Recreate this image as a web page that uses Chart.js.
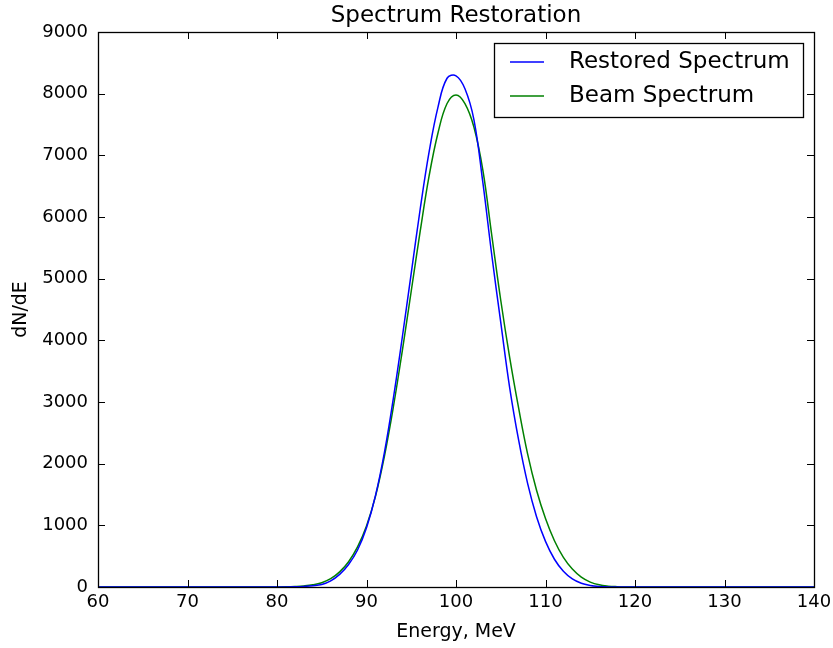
<!DOCTYPE html>
<html>
<head>
<meta charset="utf-8">
<script src="https://cdn.jsdelivr.net/npm/chart.js@4.4.0/dist/chart.umd.min.js"></script>
<style>
  html, body { margin: 0; padding: 0; background: #fff; }
  #wrap { width: 833px; height: 648px; }
</style>
</head>
<body>
<div id="wrap"><canvas id="spec"></canvas></div>
<script>
// energy grid, MeV
const energy = [60, 61, 62, 63, 64, 65, 66, 67, 68, 69,
                70, 71, 72, 73, 74, 75, 76, 77, 78, 79,
                80, 81, 82, 83, 84, 85, 86, 87, 88, 89,
                90, 91, 92, 93, 94, 95, 96, 97, 98, 99,
                100, 101, 102, 103, 104, 105, 106, 107, 108, 109,
                110, 111, 112, 113, 114, 115, 116, 117, 118, 119,
                120, 121, 122, 123, 124, 125, 126, 127, 128, 129,
                130, 131, 132, 133, 134, 135, 136, 137, 138, 139, 140];

// dN/dE
const restored = [0, 0, 0, 0, 0, 0, 0, 0, 0, 0,
                  0, 0, 0, 0, 0, 0, 0, 0, 0, 0,
                  0, 1, 4, 10, 20, 40, 100, 205, 365, 600,
                  960, 1480, 2180, 3060, 4050, 5090, 6130, 7060, 7790, 8250,
                  8290, 8080, 7580, 6560, 5380, 4290, 3230, 2380, 1680, 1140,
                  740, 450, 255, 130, 60, 25, 8, 2, 0, 0,
                  0, 0, 0, 0, 0, 0, 0, 0, 0, 0,
                  0, 0, 0, 0, 0, 0, 0, 0, 0, 0, 0];

const beam = [0, 0, 0, 0, 0, 0, 0, 0, 0, 0,
              0, 0, 0, 0, 0, 0, 0, 0, 0, 0,
              1, 3, 8, 17, 35, 70, 135, 245, 410, 650,
              990, 1470, 2120, 2920, 3830, 4800, 5770, 6670, 7370, 7840,
              7980, 7840, 7460, 6760, 5700, 4650, 3720, 2900, 2160, 1570,
              1110, 750, 480, 290, 160, 80, 35, 14, 5, 1,
              0, 0, 0, 0, 0, 0, 0, 0, 0, 0,
              0, 0, 0, 0, 0, 0, 0, 0, 0, 0, 0];

const chartTitle = 'Spectrum Restoration';
const seriesNames = ['Restored Spectrum', 'Beam Spectrum'];
const seriesColors = ['#0000ff', '#008000'];

const FONT = "'DejaVu Sans', sans-serif";

function pts(ys) {
    return energy.map((e, i) => ({ x: e, y: ys[i] }));
}

// box round the plot, inward ticks on all four sides, title over the plot, legend box
const framePlugin = {
    id: 'frame',
    afterDraw(chart) {
        const { ctx, chartArea: a, scales } = chart;
        const tl = 7;
        ctx.save();
        ctx.strokeStyle = '#000';
        ctx.lineWidth = 1;
        ctx.beginPath();
        for (const t of scales.x.ticks) {
            const px = Math.round(scales.x.getPixelForValue(t.value)) + 0.5;
            ctx.moveTo(px, a.bottom); ctx.lineTo(px, a.bottom - tl);
            ctx.moveTo(px, a.top); ctx.lineTo(px, a.top + tl);
        }
        for (const t of scales.y.ticks) {
            const py = Math.round(scales.y.getPixelForValue(t.value)) + 0.5;
            ctx.moveTo(a.left, py); ctx.lineTo(a.left + tl, py);
            ctx.moveTo(a.right, py); ctx.lineTo(a.right - tl, py);
        }
        ctx.stroke();
        ctx.lineWidth = 1.3;
        ctx.strokeRect(Math.round(a.left) + 0.5, Math.round(a.top) + 0.5,
                       Math.round(a.right - a.left), Math.round(a.bottom - a.top));

        // title centred on the plot area
        ctx.fillStyle = '#000';
        ctx.font = "23px " + FONT;
        ctx.textAlign = 'center';
        ctx.textBaseline = 'middle';
        ctx.fillText(chartTitle, (a.left + a.right) / 2, a.top - 16);

        // legend box, upper right
        const bx = Math.round(a.right) - 320, by = Math.round(a.top) + 11, bw = 309, bh = 74;
        ctx.fillStyle = '#fff';
        ctx.fillRect(bx, by, bw, bh);
        ctx.lineWidth = 1.3;
        ctx.strokeRect(bx + 0.5, by + 0.5, bw, bh);
        ctx.textAlign = 'left';
        seriesNames.forEach((name, i) => {
            const y = by + 19 + i * 34;
            ctx.strokeStyle = seriesColors[i];
            ctx.lineWidth = 1.5;
            ctx.beginPath();
            ctx.moveTo(bx + 16, y); ctx.lineTo(bx + 50, y);
            ctx.stroke();
            ctx.fillStyle = '#000';
            ctx.fillText(name, bx + 75, y);
        });
        ctx.restore();
    }
};

const ctx = document.getElementById('spec').getContext('2d');
const chart = new Chart(ctx, {
    type: 'line',
    data: {
        datasets: [
            { label: seriesNames[0], data: pts(restored), borderColor: seriesColors[0],
              borderWidth: 1.5, pointRadius: 0, tension: 0.4 },
            { label: seriesNames[1], data: pts(beam), borderColor: seriesColors[1],
              borderWidth: 1.5, pointRadius: 0, tension: 0.4 }
        ]
    },
    options: {
        responsive: true,
        maintainAspectRatio: false,
        animation: false,
        layout: { padding: { left: 0, right: 19, top: 32, bottom: 0 } },
        plugins: {
            legend: { display: false },
            tooltip: { enabled: false },
            title: { display: false }
        },
        scales: {
            x: {
                type: 'linear',
                min: 60, max: 140,
                grid: { display: false, drawTicks: false },
                border: { display: false },
                ticks: { stepSize: 10, color: '#000', padding: 5,
                         font: { family: FONT, size: 18 } },
                title: { display: true, text: 'Energy, MeV', color: '#000',
                         font: { family: FONT, size: 19 }, padding: { top: 4, bottom: 5 } },
                afterFit(s) { s.height = 61; s.paddingRight = 0; s.paddingLeft = 0; }
            },
            y: {
                min: 0, max: 9000,
                grid: { display: false, drawTicks: false },
                border: { display: false },
                ticks: { stepSize: 1000, color: '#000', padding: 10,
                         font: { family: FONT, size: 18 },
                         callback: (v) => String(v) },
                title: { display: true, text: 'dN/dE', color: '#000',
                         font: { family: FONT, size: 19 }, padding: { top: 10, bottom: 4 } },
                afterFit(s) { s.width = 98; s.paddingTop = 0; s.paddingBottom = 0; }
            }
        }
    },
    plugins: [framePlugin]
});
</script>
</body>
</html>
